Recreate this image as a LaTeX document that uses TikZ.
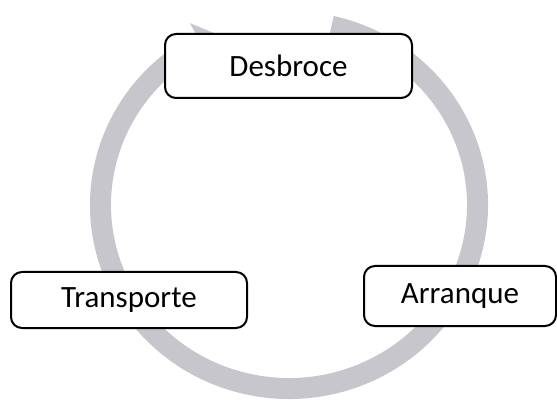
\documentclass[tikz,border=0pt]{standalone}
\usepackage{fontspec}
\setmainfont{Carlito}
\usetikzlibrary{positioning,calc}

\definecolor{ringgray}{RGB}{198,198,204}
\tikzset{
  stage/.style={draw, line width=2pt, rounded corners=11pt, fill=white,
    inner sep=0pt, font=\fontsize{31}{37}\selectfont}
}

\begin{document}
\begin{tikzpicture}[x=1pt,y=1pt,node distance=2cm,on grid]
  \useasboundingbox (0,0) rectangle (557,402);
  \coordinate (c) at (289,197);
  % cycle arrow behind the boxes
  \fill[ringgray] ($(c)+(77:199pt and 194pt)$)
    arc[start angle=77, end angle=-242, x radius=199pt, y radius=194pt]
    -- ($(c)+(118:211pt and 206pt)$)
    -- ($(c)+(112:188.5pt and 183.5pt)$)
    -- ($(c)+(118:166pt and 161pt)$)
    -- ($(c)+(118:178pt and 173pt)$)
    arc[start angle=-242, end angle=77, x radius=178pt, y radius=173pt]
    -- cycle;
  \node[stage,minimum width=247pt,minimum height=64pt] (des) at (288.5,336) {Desbroce};
  \node[stage,minimum width=192pt,minimum height=60pt] (arr)
    [below right = 230pt and 171.5pt of des] {Arranque};
  \node[stage,minimum width=236pt,minimum height=56pt] (tra)
    [below left = 234pt and 159.5pt of des] {Transporte};
\end{tikzpicture}
\end{document}
